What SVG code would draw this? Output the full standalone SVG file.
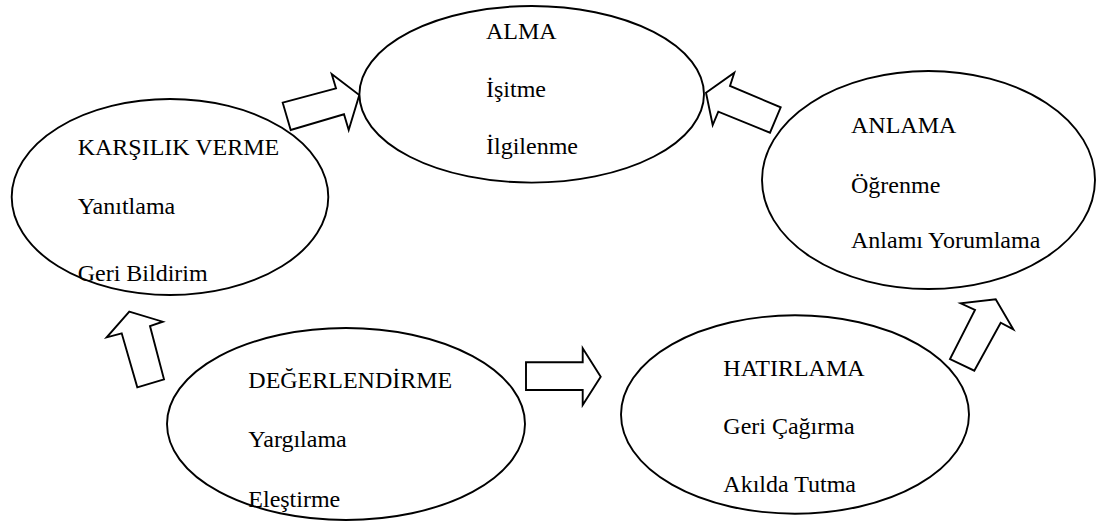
<svg xmlns="http://www.w3.org/2000/svg" width="1097" height="529" viewBox="0 0 1097 529">
<style>
.node ellipse{fill:#fff;stroke:#000;stroke-width:1.9}
.node text{font-family:"Liberation Serif","Times New Roman",serif;font-size:24px;fill:#000}
.arrow{fill:#fff;stroke:#000;stroke-width:1.9;stroke-linejoin:miter}
</style>
<rect width="1097" height="529" fill="#fff"/>
<g id="connectors">
<polygon class="arrow" points="290.7,130 282.7,102.7 336,88.3 331.7,74 359.3,95 348.7,130 344,114.3"/>
<polygon class="arrow" points="706,92.7 734.3,72.7 730,86 780.7,107.3 770,132.7 718.3,111.7 712.7,125"/>
<polygon class="arrow" points="129.3,311.7 162.7,321.7 150,326 164,379.3 137.3,387.3 121.7,333.3 106.7,337.3"/>
<polygon class="arrow" points="526,362.3 582.7,362.3 582.7,348.3 600.7,376.7 582.7,405 582.7,390 526,390"/>
<polygon class="arrow" points="995.7,299.3 1013.3,329.3 1000.7,322.7 974.3,370.7 950,359 975,310 960.7,303.3"/>
</g>
<g id="alma" class="node">
<ellipse cx="531.7" cy="94.3" rx="172.3" ry="88.3"/>
<text x="486" y="39.3">ALMA</text>
<text x="486" y="96.7">İşitme</text>
<text x="486" y="154">İlgilenme</text>
</g>
<g id="karsilik" class="node">
<ellipse cx="170" cy="197" rx="158.3" ry="98"/>
<text x="77.7" y="155">KARŞILIK VERME</text>
<text x="77.7" y="214">Yanıtlama</text>
<text x="77.7" y="280.7">Geri Bildirim</text>
</g>
<g id="anlama" class="node">
<ellipse cx="928.5" cy="180" rx="166.5" ry="109"/>
<text x="851" y="133">ANLAMA</text>
<text x="851" y="193">Öğrenme</text>
<text x="851" y="248">Anlamı Yorumlama</text>
</g>
<g id="degerlendirme" class="node">
<ellipse cx="346" cy="424" rx="179" ry="96"/>
<text x="248.3" y="388.3">DEĞERLENDİRME</text>
<text x="248.3" y="446.7">Yargılama</text>
<text x="248.3" y="506.7">Eleştirme</text>
</g>
<g id="hatirlama" class="node">
<ellipse cx="795" cy="414.5" rx="174" ry="99.2"/>
<text x="723.3" y="376">HATIRLAMA</text>
<text x="723.3" y="434">Geri Çağırma</text>
<text x="723.3" y="492">Akılda Tutma</text>
</g>
</svg>
